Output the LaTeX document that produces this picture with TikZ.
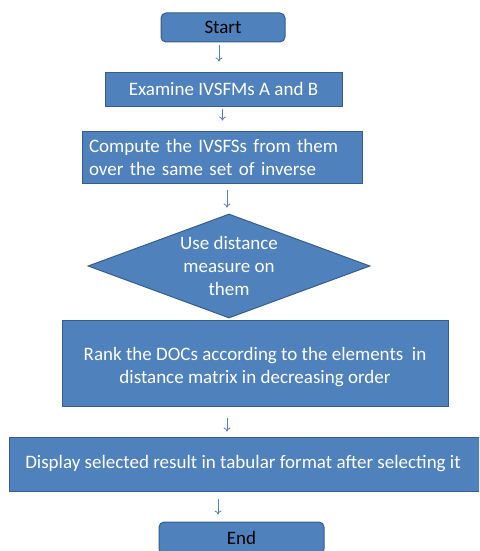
\documentclass[tikz,border=0pt]{standalone}
\usepackage{fontspec}
\setmainfont{Carlito}
\usepackage{xcolor}
\usetikzlibrary{shapes.geometric, arrows.meta}

\definecolor{boxblue}{HTML}{4F81BD}
\definecolor{boxedge}{HTML}{385D8A}

\begin{document}
\begin{tikzpicture}[x=1pt, y=-1pt, line width=1pt,
    box/.style={draw=boxedge, fill=boxblue, text=white, inner sep=0pt,
        font=\fontsize{19}{23}\selectfont},
    term/.style={box, rounded corners=5pt, text=black},
    decide/.style={box, diamond, aspect=2.7},
    arr/.style={draw=boxblue, line width=0.8pt, -{To[length=4pt,width=7pt]}}]
    \useasboundingbox (0,0) rectangle (479,551);
    \clip (0,0) rectangle (479,551);
    \node[term, minimum width=124pt, minimum height=29pt] (start) at (223,27.5) {Start};
    \node[box, minimum width=237pt, minimum height=34pt] (examine) at (223.5,89) {Examine IVSFMs A and B};
    \node[box, minimum width=280pt, minimum height=52pt, align=left, text width=266pt] (compute) at (222,157)
        {Compute the IVSFSs from them\\over the same set of inverse};
    \node[decide, minimum width=282pt, minimum height=104pt] (measure) at (229,266)
        {\smash{\makebox[0pt]{\raisebox{-6pt}{\begin{tabular}{@{}c@{}}Use distance\\measure on\\them\end{tabular}}}}};
    \draw[arr, opacity=0.25] (227,320) -- (227,340);
    \node[box, minimum width=386pt, minimum height=86pt] (rank) at (255,363)
        {\smash{\raisebox{-9pt}{\begin{tabular}{@{}c@{}}Rank the DOCs according to the elements \ in\\distance matrix in decreasing order\end{tabular}}}};
    \node[box, minimum width=480pt, minimum height=54pt] (display) at (249,464)
        {\hspace*{-12pt}Display selected result in tabular format after selecting it};
    \node[term, minimum width=165pt, minimum height=32pt] (end) at (241.5,538) {\raisebox{-3pt}{End}};
    \draw[arr, shorten <=3pt, shorten >=10pt] ([xshift=-4pt]start.south) -- ([xshift=-4pt]start.south |- examine.north);
    \draw[arr, shorten <=2pt, shorten >=10pt] ([xshift=-1pt]examine.south) -- ([xshift=-1pt]examine.south |- compute.north);
    \draw[arr, shorten <=6pt, shorten >=6pt] ([xshift=5pt]compute.south) -- ([xshift=5pt]compute.south |- measure.north);
    \draw[arr, shorten <=11pt, shorten >=5pt] ([xshift=-28pt]rank.south) -- ([xshift=-28pt]rank.south |- display.north);
    \draw[arr, shorten <=7pt, shorten >=7pt] ([xshift=-31pt]display.south) -- ([xshift=-31pt]display.south |- end.north);
\end{tikzpicture}
\end{document}
